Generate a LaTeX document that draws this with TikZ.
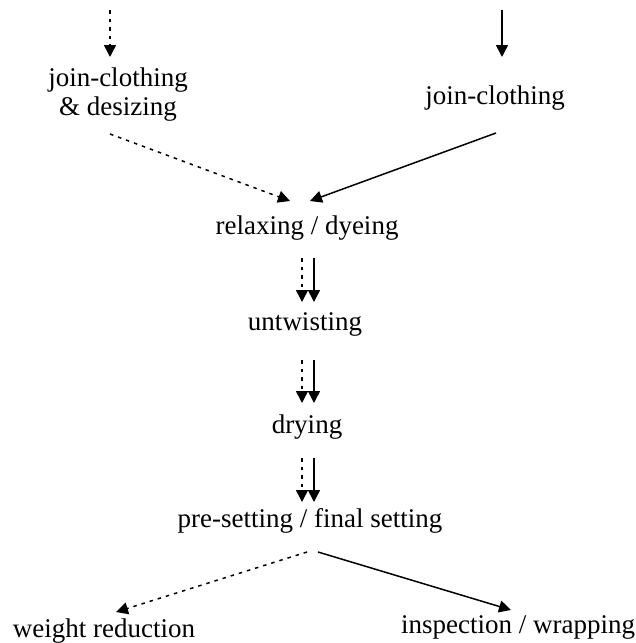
\documentclass[tikz,border=0pt]{standalone}
\usepackage{fontspec}
\setmainfont{Liberation Serif}
\usetikzlibrary{arrows.meta}
\begin{document}
\begin{tikzpicture}[x=1pt,y=-1pt,
  lbl/.style={font=\fontsize{27}{29}\selectfont, inner sep=0pt, align=center},
  conn/.style={line width=1.5pt, -{Triangle[width=12pt,length=12pt]}},
  dconn/.style={conn, dash pattern=on 3.5pt off 5pt}]
\useasboundingbox (0,0) rectangle (636,643);
% nodes
\node[lbl] (jcd) at (118,95) {join-clothing\\\& desizing};
\node[lbl] (jc) at (495,98) {join-clothing};
\node[lbl] (relax) at (307,228) {relaxing / dyeing};
\node[lbl] (untw) at (305,324) {untwisting};
\node[lbl] (dry) at (307,427) {drying};
\node[lbl] (pre) at (310,521) {pre-setting / final setting};
\node[lbl] (wr) at (104,631) {weight reduction};
\node[lbl] (iw) at (518,627) {inspection / wrapping};
% free-end coordinates
\coordinate (s1) at (110,10);
\coordinate (s2) at (502,10);
\coordinate (e1) at (110,57);
\coordinate (e2) at (502,57);
\draw[dconn] (s1) -- (e1);
\draw[conn] (s2) -- (e2);
% into relaxing
\coordinate (r1) at (290,201);
\coordinate (r2) at (310,201);
\coordinate (jcdo) at (110,134);
\coordinate (jco) at (496,133);
\draw[dconn] (jcdo) -- (r1);
\draw[conn] (jco) -- (r2);
% double arrows
\foreach \a/\b/\ya/\yb in {relax/untw/258/302, untw/dry/360/403, dry/pre/458/502}{
  \draw[dconn] (302,\ya) -- (302,\yb);
  \draw[conn] (314,\ya) -- (314,\yb);
}
% outputs
\coordinate (p1) at (307,552);
\coordinate (p2) at (318,552);
\coordinate (w1) at (116,612);
\coordinate (i1) at (511,610);
\draw[dconn] (p1) -- (w1);
\draw[conn] (p2) -- (i1);
\end{tikzpicture}
\end{document}
